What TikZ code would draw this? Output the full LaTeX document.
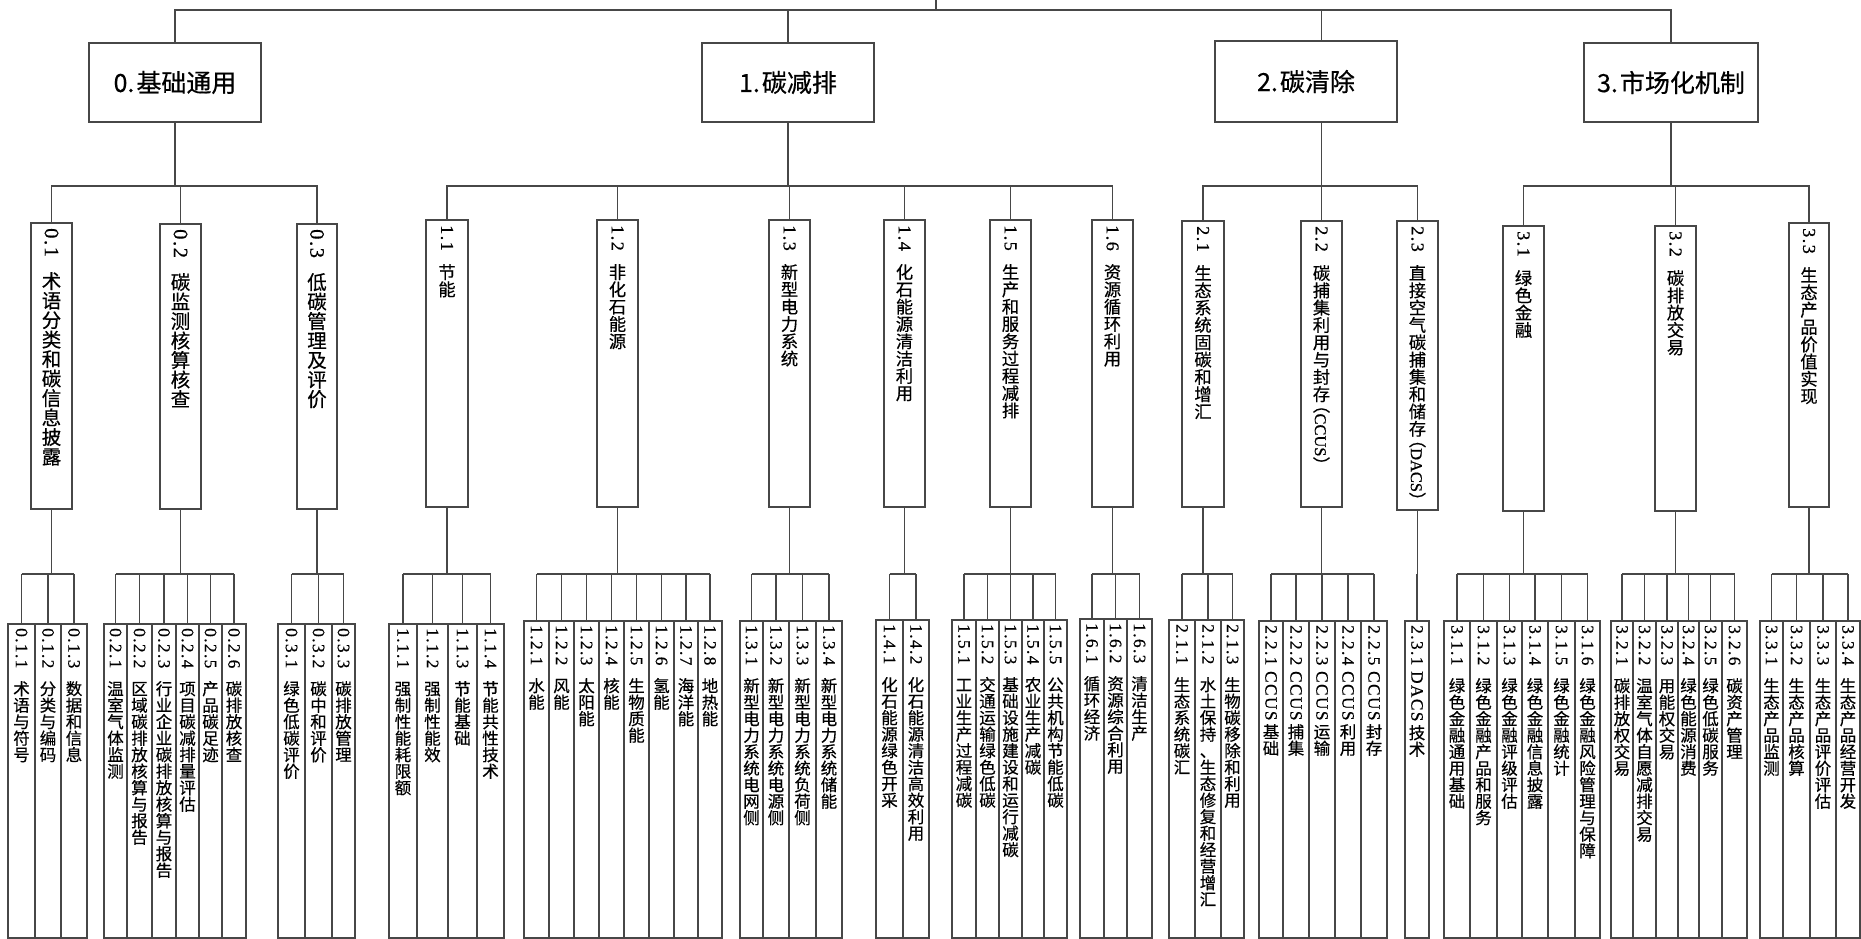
\documentclass[tikz,border=0pt]{standalone}
\usepackage{fontspec}
\setmainfont{Noto Sans CJK SC}[FakeBold=0.5]
\newfontfamily\numfont{Liberation Serif}[Scale=1.05, LetterSpace=8, FakeBold=0.6]
\newfontfamily\latfont{Liberation Serif}[Scale=0.95, FakeBold=0.6]
\usepackage{graphicx}
\usetikzlibrary{fit}
\newcommand\vtchar[1]{\hbox to \hsize{\hss\vrule height .86em depth .14em width 0pt\relax #1\hss}}
\ExplSyntaxOn
\tl_new:N \l_vt_tl
\NewDocumentCommand\vt{O{.75em}mmm}{
  \tl_set:Nx \l_vt_tl {#3}
  \vbox{\offinterlineskip \hsize=1.2em
    \hbox_to_wd:nn {\hsize} {\hss\rotatebox{-90}{\numfont #2}\hss}
    \kern #1
    \tl_map_inline:Nn \l_vt_tl {\vtchar{##1}}
    \tl_if_blank:nF {#4} {\kern .1em \hbox_to_wd:nn {\hsize}{\hss\rotatebox{-90}{#4}\hss}}
  }
}
\ExplSyntaxOff
\newcommand\paren[1]{\kern-.5em（{\latfont #1}）\kern-.5em}
\tikzset{
  conn/.style={draw=black!72, line width=1.7pt},
  bx/.style={draw=black!72, line width=1.7pt, inner sep=0pt, outer sep=0pt},
  l1text/.style={font=\fontsize{25}{25}\selectfont, inner sep=0pt},
  l2text/.style={anchor=north, inner sep=0pt, font=\fontsize{17.3}{17.3}\selectfont},
  l2big/.style={anchor=north, inner sep=0pt, font=\fontsize{19.5}{19.5}\selectfont},
  lftext/.style={anchor=north, inner sep=0pt, font=\fontsize{16.5}{16.5}\selectfont},
}
\newcommand\leafgroup[5][.75em]{%
  \coordinate (bus#2) at (0,574);
  \foreach \xl/\xr/\nm/\cjk [count=\i] in {#5} {
    \node[bx, fit={(\xl,#3) (\xr,938)}] (lf#2-\i) {};
    \node[lftext] (lt#2-\i) at ([yshift=-4pt]lf#2-\i.north) {\vt[#1]{\nm}{\cjk}{}};
    \draw[conn] (lf#2-\i.north) -- (lf#2-\i.north |- bus#2);
  }
  \draw[conn] (lf#2-1.north |- bus#2) -- (lf#2-#4.north |- bus#2);
  \draw[conn] (L#2.south) -- (L#2.south |- bus#2);
}
\begin{document}
\begin{tikzpicture}[x=1pt,y=-1pt]
\useasboundingbox (0,0) rectangle (1861,939);
% level 1
\node[bx, fit={(89,43) (261,122)}] (L0) {};
\node[bx, fit={(702,43) (874,122)}] (L1) {};
\node[bx, fit={(1215,41) (1397,122)}] (L2) {};
\node[bx, fit={(1584,43) (1758,122)}] (L3) {};
\node[l1text] (t0) at (L0.center) {0.\hspace{2pt}基础通用};
\node[l1text] (t1) at (L1.center) {1.\hspace{2pt}碳减排};
\node[l1text] (t2) at (L2.center) {2.\hspace{2pt}碳清除};
\node[l1text] (t3) at (L3.center) {3.\hspace{2pt}市场化机制};
% level 2
\node[bx, fit={(31,223) (72,509)}] (L01) {};
\node[bx, fit={(160,224) (201,509)}] (L02) {};
\node[bx, fit={(297,224) (337,509)}] (L03) {};
\node[bx, fit={(426,220) (468,507)}] (L11) {};
\node[bx, fit={(597,220) (638,507)}] (L12) {};
\node[bx, fit={(769,220) (810,507)}] (L13) {};
\node[bx, fit={(884,220) (925,507)}] (L14) {};
\node[bx, fit={(990,220) (1031,507)}] (L15) {};
\node[bx, fit={(1092,220) (1133,507)}] (L16) {};
\node[bx, fit={(1182,221) (1224,507)}] (L21) {};
\node[bx, fit={(1301,221) (1342,507)}] (L22) {};
\node[bx, fit={(1397,221) (1438,510)}] (L23) {};
\node[bx, fit={(1503,226) (1544,511)}] (L31) {};
\node[bx, fit={(1655,226) (1696,511)}] (L32) {};
\node[bx, fit={(1789,223) (1829,507)}] (L33) {};
\node[l2big] (T01) at ([yshift=-5pt]L01.north) {\vt{0.1}{术语分类和碳信息披露}{}};
\node[l2big] (T02) at ([yshift=-5pt]L02.north) {\vt{0.2}{碳监测核算核查}{}};
\node[l2big] (T03) at ([yshift=-5pt]L03.north) {\vt{0.3}{低碳管理及评价}{}};
\node[l2text] (T11) at ([yshift=-5pt]L11.north) {\vt{1.1}{节能}{}};
\node[l2text] (T12) at ([yshift=-5pt]L12.north) {\vt{1.2}{非化石能源}{}};
\node[l2text] (T13) at ([yshift=-5pt]L13.north) {\vt{1.3}{新型电力系统}{}};
\node[l2text] (T14) at ([yshift=-5pt]L14.north) {\vt{1.4}{化石能源清洁利用}{}};
\node[l2text] (T15) at ([yshift=-5pt]L15.north) {\vt{1.5}{生产和服务过程减排}{}};
\node[l2text] (T16) at ([yshift=-5pt]L16.north) {\vt{1.6}{资源循环利用}{}};
\node[l2text] (T21) at ([yshift=-5pt]L21.north) {\vt{2.1}{生态系统固碳和增汇}{}};
\node[l2text] (T22) at ([yshift=-5pt]L22.north) {\vt{2.2}{碳捕集利用与封存}{\paren{CCUS}}};
\node[l2text] (T23) at ([yshift=-5pt]L23.north) {\vt{2.3}{直接空气碳捕集和储存}{\paren{DACS}}};
\node[l2text] (T31) at ([yshift=-5pt]L31.north) {\vt{3.1}{绿色金融}{}};
\node[l2text] (T32) at ([yshift=-5pt]L32.north) {\vt{3.2}{碳排放交易}{}};
\node[l2text] (T33) at ([yshift=-5pt]L33.north) {\vt{3.3}{生态产品价值实现}{}};
% top connectors
\coordinate (root) at (936,0);
\coordinate (topbus) at (0,10);
\coordinate (c2) at (L2.north -| L22.north);
\draw[conn] (L0.north) |- (L3.north |- topbus) -- (L3.north);
\draw[conn] (L1.north) -- (L1.north |- topbus);
\draw[conn] (c2) -- (c2 |- topbus);
\draw[conn] (root) -- (root |- topbus);
% level-2 buses
\coordinate (b0) at (0,186);
\draw[conn] (L01.north) |- (L03.north |- b0) -- (L03.north);
\draw[conn] (L02.north) -- (L02.north |- b0);
\draw[conn] (L0.south) -- (L0.south |- b0);
\draw[conn] (L11.north) |- (L16.north |- b0) -- (L16.north);
\foreach \n in {L12,L13,L14,L15} {\draw[conn] (\n.north) -- (\n.north |- b0);}
\draw[conn] (L1.south) -- (L1.south |- b0);
\draw[conn] (L21.north) |- (L23.north |- b0) -- (L23.north);
\draw[conn] (L22.north) -- (L22.north |- b0);
\coordinate (c2s) at (L2.south -| L22.north);
\draw[conn] (c2s) -- (c2s |- b0);
\draw[conn] (L31.north) |- (L33.north |- b0) -- (L33.north);
\draw[conn] (L32.north) -- (L32.north |- b0);
\draw[conn] (L3.south) -- (L3.south |- b0);
% leaves
\leafgroup{01}{624}{3}{8/35/0.1.1/术语与符号, 35/61/0.1.2/分类与编码, 61/87/0.1.3/数据和信息}
\leafgroup{02}{624}{6}{104/127/0.2.1/温室气体监测, 127/152/0.2.2/区域碳排放核算与报告, 152/176/0.2.3/行业企业碳排放核算与报告, 176/199/0.2.4/项目碳减排量评估, 199/222/0.2.5/产品碳足迹, 222/246/0.2.6/碳排放核查}
\leafgroup{03}{624}{3}{278/305/0.3.1/绿色低碳评价, 305/332/0.3.2/碳中和评价, 332/355/0.3.3/碳排放管理}
\leafgroup{11}{624}{4}{389/417/1.1.1/强制性能耗限额, 417/448/1.1.2/强制性能效, 448/477/1.1.3/节能基础, 477/504/1.1.4/节能共性技术}
\leafgroup{12}{621}{8}{524/549/1.2.1/水能, 549/574/1.2.2/风能, 574/599/1.2.3/太阳能, 599/624/1.2.4/核能, 624/649/1.2.5/生物质能, 649/674/1.2.6/氢能, 674/698/1.2.7/海洋能, 698/722/1.2.8/地热能}
\leafgroup{13}{621}{4}{740/763/1.3.1/新型电力系统电网侧, 763/789/1.3.2/新型电力系统电源侧, 789/816/1.3.3/新型电力系统负荷侧, 816/842/1.3.4/新型电力系统储能}
\leafgroup{14}{620}{2}{876/903/1.4.1/化石能源绿色开采, 903/929/1.4.2/化石能源清洁高效利用}
\leafgroup{15}{620}{5}{952/976/1.5.1/工业生产过程减碳, 976/999/1.5.2/交通运输绿色低碳, 999/1022/1.5.3/基础设施建设和运行减碳, 1022/1044/1.5.4/农业生产减碳, 1044/1067/1.5.5/公共机构节能低碳}
\leafgroup{16}{619}{3}{1080/1104/1.6.1/循环经济, 1104/1127/1.6.2/资源综合利用, 1127/1152/1.6.3/清洁生产}
\leafgroup{21}{620}{3}{1169/1195/2.1.1/生态系统碳汇, 1195/1221/2.1.2/水土保持、生态修复和经营增汇, 1221/1244/2.1.3/生物碳移除和利用}
\leafgroup[.2em]{22}{621}{5}{1259/1283/2.2.1 CCUS/基础, 1283/1309/2.2.2 CCUS/捕集, 1309/1335/2.2.3 CCUS/运输, 1335/1361/2.2.4 CCUS/利用, 1361/1387/2.2.5 CCUS/封存}
\leafgroup[.2em]{23}{621}{1}{1405/1429/2.3.1 DACS/技术}
\leafgroup{31}{621}{6}{1444/1470/3.1.1/绿色金融通用基础, 1470/1497/3.1.2/绿色金融产品和服务, 1497/1522/3.1.3/绿色金融评级评估, 1522/1548/3.1.4/绿色金融信息披露, 1548/1575/3.1.5/绿色金融统计, 1575/1600/3.1.6/绿色金融风险管理与保障}
\leafgroup{32}{621}{6}{1611/1633/3.2.1/碳排放权交易, 1633/1656/3.2.2/温室气体自愿减排交易, 1656/1678/3.2.3/用能权交易, 1678/1699/3.2.4/绿色能源消费, 1699/1722/3.2.5/绿色低碳服务, 1722/1747/3.2.6/碳资产管理}
\leafgroup{33}{621}{4}{1760/1783/3.3.1/生态产品监测, 1783/1810/3.3.2/生态产品核算, 1810/1836/3.3.3/生态产品评价评估, 1836/1860/3.3.4/生态产品经营开发}
\end{tikzpicture}
\end{document}
